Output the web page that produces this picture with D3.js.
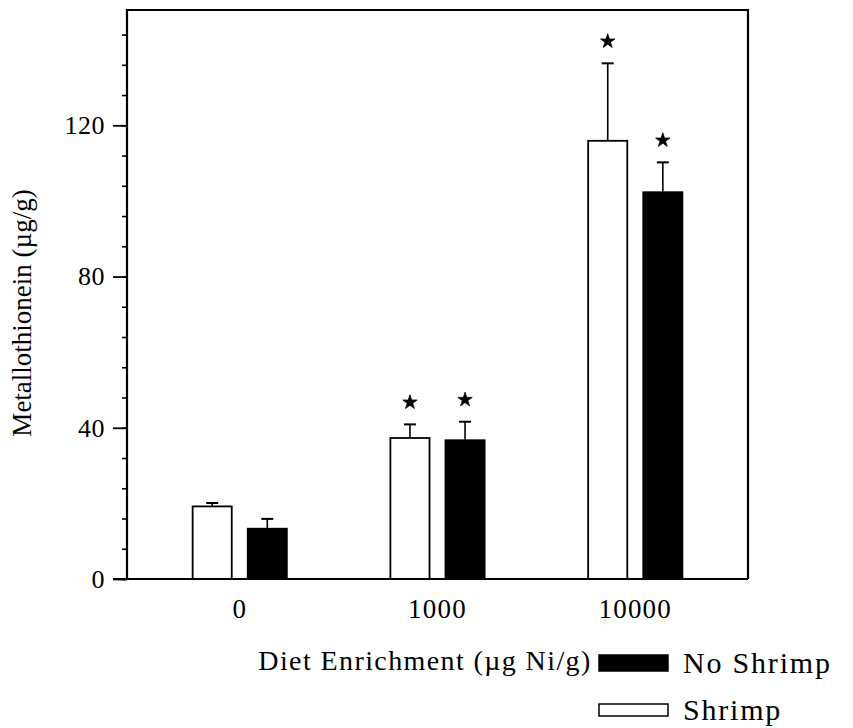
<!DOCTYPE html>
<html>
<head>
<meta charset="utf-8">
<script src="https://cdn.jsdelivr.net/npm/d3@7"></script>
<style>
  html, body { margin: 0; padding: 0; background: #fff; }
  svg { display: block; }
  svg text { font-family: "Liberation Serif", "Times New Roman", serif; fill: #000; }
</style>
</head>
<body>
<svg id="chart" width="853" height="728"></svg>
<script>
// Diet enrichment levels (µg Ni/g)
const categories = ["0", "1000", "10000"];
const seriesNames = ["Shrimp", "No Shrimp"];

// Metallothionein (µg/g), mean and upper error
const shrimpMeans = [19.2, 37.3, 115.9];
const shrimpErrors = [0.9, 3.6, 20.5];
const noShrimpMeans = [13.3, 36.7, 102.3];
const noShrimpErrors = [2.6, 4.9, 7.9];

// Significant difference from control
const shrimpSignificant = [false, true, true];
const noShrimpSignificant = [false, true, true];

const yMajorTicks = [0, 40, 80, 120];
const yMinorTicks = d3.range(0, 150, 8);
const yMax = 150.5;

const svg = d3.select("#chart");
const plot = { left: 127, right: 748, top: 10, bottom: 579 };

const y = d3.scaleLinear().domain([0, yMax]).range([plot.bottom, plot.top]);
const x0 = d3.scaleBand().domain(categories).range([plot.left, plot.right])
  .paddingInner(0).paddingOuter(0.07);
const x1 = d3.scaleBand().domain(seriesNames).range([0, x0.bandwidth()])
  .paddingInner(0.29).paddingOuter(0.94);

const fills = { "Shrimp": "#fff", "No Shrimp": "#000" };

const rows = [];
categories.forEach((c, i) => {
  rows.push({ cat: c, series: "Shrimp", value: shrimpMeans[i], err: shrimpErrors[i], sig: shrimpSignificant[i] });
  rows.push({ cat: c, series: "No Shrimp", value: noShrimpMeans[i], err: noShrimpErrors[i], sig: noShrimpSignificant[i] });
});

const bx = d => x0(d.cat) + x1(d.series);
const bw = x1.bandwidth();

// Error bars (upper half only)
const eb = svg.append("g").attr("stroke", "#000").attr("stroke-width", 1.6);
eb.selectAll("line.stem").data(rows).join("line")
  .attr("x1", d => bx(d) + bw / 2).attr("x2", d => bx(d) + bw / 2)
  .attr("y1", d => y(d.value)).attr("y2", d => y(d.value + d.err));
eb.selectAll("line.cap").data(rows).join("line")
  .attr("x1", d => bx(d) + bw / 2 - 6).attr("x2", d => bx(d) + bw / 2 + 6)
  .attr("y1", d => y(d.value + d.err)).attr("y2", d => y(d.value + d.err))
  .attr("stroke-width", 2);

// Bars
svg.append("g").selectAll("rect").data(rows).join("rect")
  .attr("x", d => bx(d)).attr("width", bw)
  .attr("y", d => y(d.value)).attr("height", d => y(0) - y(d.value))
  .attr("fill", d => fills[d.series])
  .attr("stroke", "#000").attr("stroke-width", 1.8);

// Significance stars
const star = d3.symbol().type(d3.symbolStar).size(64);
svg.append("g").selectAll("path").data(rows.filter(d => d.sig)).join("path")
  .attr("d", star)
  .attr("transform", d => `translate(${bx(d) + bw / 2},${y(d.value + d.err) - 22})`)
  .attr("fill", "#000").attr("stroke", "#000").attr("stroke-width", 0.8)
  .attr("stroke-linejoin", "round");

// Frame
svg.append("path")
  .attr("d", `M${plot.left},${plot.bottom}V${plot.top}H${plot.right}V${plot.bottom}`)
  .attr("fill", "none").attr("stroke", "#000").attr("stroke-width", 2.2);
svg.append("line")
  .attr("x1", plot.left - 14).attr("x2", plot.right)
  .attr("y1", plot.bottom).attr("y2", plot.bottom)
  .attr("stroke", "#000").attr("stroke-width", 2.2);

// Y axis: minor then major ticks
const minorAxis = d3.axisLeft(y).tickValues(yMinorTicks).tickSize(5).tickFormat("");
const gMinor = svg.append("g").attr("transform", `translate(${plot.left},0)`).call(minorAxis);
gMinor.select(".domain").remove();
gMinor.selectAll("line").attr("stroke-width", 1.6);

const majorAxis = d3.axisLeft(y).tickValues(yMajorTicks).tickSize(14).tickPadding(8);
const gMajor = svg.append("g").attr("transform", `translate(${plot.left},0)`).call(majorAxis);
gMajor.attr("font-family", null).attr("font-size", null);
gMajor.select(".domain").remove();
gMajor.selectAll("line").attr("stroke-width", 1.8);
gMajor.selectAll("text").style("font-size", "26px").style("letter-spacing", "0.5px");

// X category labels
const xAxis = d3.axisBottom(x0).tickSize(0).tickPadding(20);
const gx = svg.append("g").attr("transform", `translate(0,${plot.bottom})`).call(xAxis);
gx.attr("font-family", null).attr("font-size", null);
gx.select(".domain").remove();
gx.selectAll("text").style("font-size", "27px").style("letter-spacing", "1.2px");

// Axis titles
svg.append("text")
  .attr("x", 425).attr("y", 670)
  .attr("text-anchor", "middle")
  .style("font-size", "28px").style("letter-spacing", "1.4px")
  .text("Diet Enrichment (µg Ni/g)");

svg.append("text")
  .attr("transform", "translate(31,313) rotate(-90)")
  .attr("text-anchor", "middle")
  .style("font-size", "27px")
  .text("Metallothionein (µg/g)");

// Legend
const legendRows = [
  { name: "No Shrimp", y: 663, h: 16 },
  { name: "Shrimp", y: 710, h: 12 }
];
const lg = svg.append("g");
lg.selectAll("rect").data(legendRows).join("rect")
  .attr("x", 599).attr("width", 69)
  .attr("y", d => d.y - d.h / 2).attr("height", d => d.h)
  .attr("fill", d => fills[d.name]).attr("stroke", "#000").attr("stroke-width", 1.5);
lg.selectAll("text").data(legendRows).join("text")
  .attr("x", 683).attr("y", d => d.y + 10)
  .style("font-size", "30px").style("letter-spacing", "1.8px")
  .text(d => d.name);
</script>
</body>
</html>
